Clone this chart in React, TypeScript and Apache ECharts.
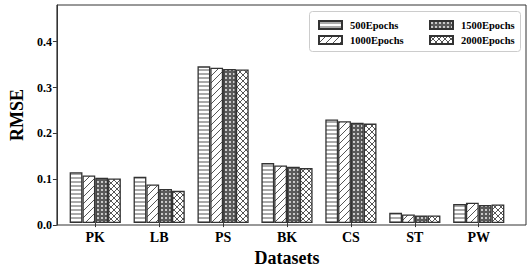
import React, { useEffect, useRef } from "react";
import * as echarts from "echarts";

const categories = ["PK", "LB", "PS", "BK", "CS", "ST", "PW"];
const seriesNames = ["500Epochs", "1000Epochs", "1500Epochs", "2000Epochs"];
const epochs500 = [0.112, 0.102, 0.345, 0.132, 0.228, 0.023, 0.042];
const epochs1000 = [0.105, 0.085, 0.342, 0.127, 0.224, 0.019, 0.045];
const epochs1500 = [0.1, 0.075, 0.339, 0.124, 0.221, 0.017, 0.04];
const epochs2000 = [0.098, 0.071, 0.338, 0.121, 0.219, 0.017, 0.041];
const yTicks = [0, 0.1, 0.2, 0.3, 0.4];

const FONT = "'Liberation Serif', 'Times New Roman', serif";
const EDGE = "#333333";
const HATCH = "#555555";

function svgUrl(svg: string) {
  return "data:image/svg+xml;charset=utf-8," + encodeURIComponent(svg);
}

const patternDefs = [
  {
    w: 6,
    h: 4,
    svg: `<svg xmlns="http://www.w3.org/2000/svg" width="6" height="4"><rect width="6" height="4" fill="#ffffff"/><line x1="0" y1="2" x2="6" y2="2" stroke="${HATCH}" stroke-width="1"/></svg>`,
  },
  {
    w: 7,
    h: 7,
    svg: `<svg xmlns="http://www.w3.org/2000/svg" width="7" height="7"><rect width="7" height="7" fill="#ffffff"/><path d="M0,7 L7,0 M-2,2 L2,-2 M5,9 L9,5" stroke="${HATCH}" stroke-width="1"/></svg>`,
  },
  {
    w: 4,
    h: 4,
    svg: `<svg xmlns="http://www.w3.org/2000/svg" width="4" height="4"><rect width="4" height="4" fill="#5a5a5a"/><circle cx="2" cy="2" r="0.9" fill="#ffffff"/></svg>`,
  },
  {
    w: 6,
    h: 6,
    svg: `<svg xmlns="http://www.w3.org/2000/svg" width="6" height="6"><rect width="6" height="6" fill="#ffffff"/><path d="M0,0 L6,6 M6,0 L0,6" stroke="${HATCH}" stroke-width="1"/></svg>`,
  },
];

export default function App() {
  const ref = useRef<HTMLDivElement>(null);

  useEffect(() => {
    if (!ref.current) return;
    const chart = echarts.init(ref.current, null, { renderer: "svg" });
    const values = [epochs500, epochs1000, epochs1500, epochs2000];

    const patterns = patternDefs.map((p) => ({
      image: svgUrl(p.svg),
      repeat: "repeat",
      imageWidth: p.w,
      imageHeight: p.h,
    }));

    const series = seriesNames.map((name, i) => ({
      name,
      type: "bar",
      xAxisIndex: 1,
      yAxisIndex: 1,
      barWidth: 12.8,
      barGap: "0%",
      data: values[i],
      itemStyle: {
        color: patterns[i] as any,
        borderColor: EDGE,
        borderWidth: 1.3,
      },
    }));

    const legendCommon = {
      orient: "vertical",
      top: 14,
      itemWidth: 23,
      itemHeight: 8,
      itemGap: 3,
      icon: "rect",
      textStyle: {
        fontFamily: FONT,
        fontWeight: "bold",
        fontSize: 10.5,
        color: "#000",
        lineHeight: 12,
        padding: [0, 0, 0, 3],
      },
    };

    chart.setOption({
      animation: false,
      backgroundColor: "#ffffff",
      grid: [
        {
          left: 48,
          top: 5,
          width: 478,
          height: 220,
          show: true,
          borderColor: EDGE,
          borderWidth: 1,
          backgroundColor: "transparent",
        },
        { left: 63.3, top: 5, width: 447.4, height: 220 },
      ],
      xAxis: [
        { type: "value", gridIndex: 0, min: 0, max: 1, show: false },
        {
          type: "category",
          gridIndex: 1,
          data: categories,
          axisLine: { show: false },
          axisTick: {
            show: true,
            alignWithLabel: true,
            length: 4,
            lineStyle: { color: EDGE },
          },
          axisLabel: {
            fontFamily: FONT,
            fontWeight: "bold",
            fontSize: 14,
            color: "#000",
            margin: 7,
          },
          name: "Datasets",
          nameLocation: "middle",
          nameGap: 24,
          nameTextStyle: {
            fontFamily: FONT,
            fontWeight: "bold",
            fontSize: 18,
            color: "#000",
          },
        },
      ],
      yAxis: [
        {
          type: "value",
          gridIndex: 0,
          min: 0,
          max: 0.48,
          axisLine: { show: true, lineStyle: { color: EDGE } },
          axisTick: {
            show: true,
            length: 4,
            customValues: yTicks,
            lineStyle: { color: EDGE },
          },
          axisLabel: {
            customValues: yTicks,
            formatter: (v: number) => v.toFixed(1),
            fontFamily: FONT,
            fontWeight: "bold",
            fontSize: 12,
            color: "#000",
            margin: 5,
          },
          splitLine: { show: false },
          name: "RMSE",
          nameLocation: "middle",
          nameGap: 30,
          nameTextStyle: {
            fontFamily: FONT,
            fontWeight: "bold",
            fontSize: 18,
            color: "#000",
          },
        },
        { type: "value", gridIndex: 1, min: 0, max: 0.48, show: false },
      ],
      legend: [
        { ...legendCommon, left: 313, data: [seriesNames[0], seriesNames[1]] },
        { ...legendCommon, left: 424, data: [seriesNames[2], seriesNames[3]] },
      ],
      graphic: [
        {
          type: "rect",
          z: 1,
          shape: { x: 309.5, y: 11.5, width: 211, height: 40, r: 3 },
          style: { fill: "#ffffff", stroke: "#cccccc", lineWidth: 1 },
        },
      ],
      series,
    });

    return () => chart.dispose();
  }, []);

  return <div ref={ref} style={{ width: 531, height: 272, position: "absolute", left: 0, top: 0 }} />;
}
